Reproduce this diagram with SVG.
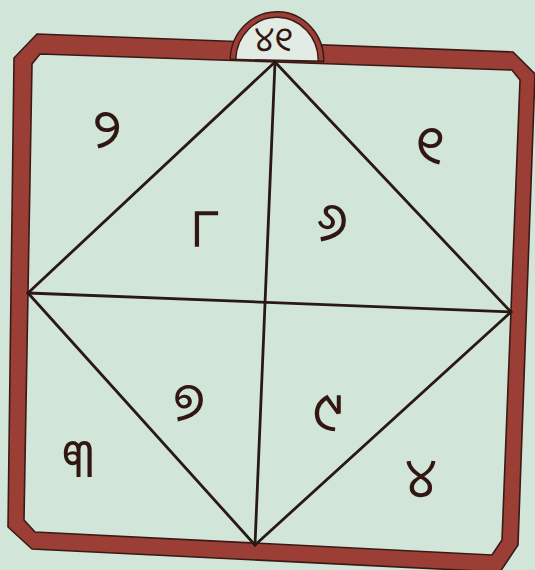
<svg xmlns="http://www.w3.org/2000/svg" width="535" height="570" viewBox="0 0 535 570">
<style>
.bg{fill:#d1e5d9}
.frame{fill:#9b3e35;stroke:#3a1a16;stroke-width:1.6;fill-rule:evenodd;stroke-linejoin:miter}
.ln{stroke:#2a1816;stroke-width:2.8;fill:none;stroke-linecap:round}
.num{font-family:"Noto Sans Oriya","Lohit Odia","Noto Sans","DejaVu Sans",sans-serif;font-size:54px;fill:#321612;text-anchor:middle;dominant-baseline:central}
</style>
<rect class="bg" x="0" y="0" width="535" height="570"/>
<g id="frame">
<path class="frame" d="M14,58 L37,34 L513,52 L535,74 L518,545 L500,572 L32,549 L8,527 Z M32,64 L40,54 L512,70 L520,80 L502,540 L492,555 L35,532 L24,520 Z"/>
</g>
<g id="cap">
<path d="M233,59.5 A44,46 0 0 1 321,61.5 Z" fill="#e2ece5"/>
<path d="M233,59.5 A44,46 0 0 1 321,61.5" fill="none" stroke="#3a1a16" stroke-width="7"/>
<path d="M233,59.5 A44,46 0 0 1 321,61.5" fill="none" stroke="#9b3e35" stroke-width="4.2"/>
<line x1="230" y1="59.5" x2="324" y2="61.5" stroke="#3a1a16" stroke-width="1.8"/>
<text class="num" x="274" y="38" style="font-size:34px">୪୧</text>
</g>
<g id="connectors">
<line class="ln" x1="275" y1="62" x2="28" y2="293"/>
<line class="ln" x1="275" y1="62" x2="511" y2="312"/>
<line class="ln" x1="28" y1="293" x2="255" y2="545"/>
<line class="ln" x1="511" y1="312" x2="255" y2="545"/>
<line class="ln" x1="275" y1="62" x2="255" y2="545"/>
<line class="ln" x1="28" y1="293" x2="511" y2="312"/>
</g>
<g id="labels">
<text id="n2" class="num" x="107" y="127">୨</text>
<text id="n1" class="num" x="430" y="143">୧</text>
<text id="n8" class="num" x="205" y="226">୮</text>
<text id="n6" class="num" x="332" y="220">୬</text>
<text id="n7" class="num" x="189" y="400">୭</text>
<text id="n9" class="num" x="328" y="410">୯</text>
<text id="n3" class="num" x="78" y="456">୩</text>
<text id="n4" class="num" x="421" y="476">୪</text>
</g>
</svg>
